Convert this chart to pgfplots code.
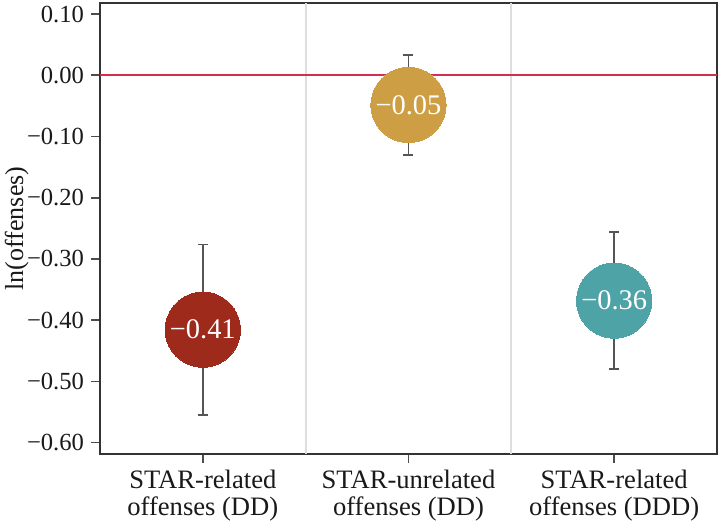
\documentclass[border=0pt]{standalone}
\usepackage{pgfplots}
\pgfplotsset{compat=1.18}
\usepackage{fontspec}
\setmainfont{Liberation Serif}
\definecolor{cred}{HTML}{9E2A1B}
\definecolor{cgold}{HTML}{CD9E44}
\definecolor{cteal}{HTML}{4EA3A6}
\definecolor{cline}{HTML}{D22F4E}
\definecolor{cerr}{HTML}{555555}
\begin{document}
\begin{tikzpicture}[font=\rmfamily]
\begin{axis}[
  at={(0,0)}, anchor=south west, scale only axis,
  width=308.5pt, height=225.5pt,
  xmin=-0.5, xmax=2.5, ymin=-0.6185, ymax=0.118,
  xtick={0,1,2},
  xticklabels={{STAR-related\\offenses (DD)},{STAR-unrelated\\offenses (DD)},{STAR-related\\offenses (DDD)}},
  ytick={0.1,0,-0.1,-0.2,-0.3,-0.4,-0.5,-0.6},
  yticklabels={0.10,0.00,−0.10,−0.20,−0.30,−0.40,−0.50,−0.60},
  tick align=outside, xtick pos=bottom, ytick pos=left,
  major tick length=4.5pt,
  tick style={draw=black!70, line width=0.8pt},
  axis line style={draw=black!80, line width=0.9pt},
  yticklabel style={font=\rmfamily\fontsize{12.3}{12.3}\selectfont, text=black!90},
  xticklabel style={align=center, font=\rmfamily\fontsize{13.3}{13.3}\selectfont, text=black!90},
  extra x ticks={0.5,1.5}, extra x tick labels={},
  extra x tick style={grid=major, major tick length=0pt, major grid style={draw=black!13, line width=0.9pt}},
  ylabel={ln(offenses)},
  ylabel style={at={(axis description cs:-0.135,0.5)}, anchor=center, font=\rmfamily\fontsize{13}{13}\selectfont, text=black!90},
]
\addplot[color=cline, line width=1pt, forget plot] coordinates {(-0.5,0) (2.5,0)};
\addplot[color=cerr, only marks, mark=none, forget plot,
  error bars/.cd, y dir=both, y explicit, error mark=-,
  error bar style={draw=cerr, line width=0.8pt},
  error mark options={draw=cerr, line width=0.8pt, mark size=2.5pt, rotate=90}]
  coordinates {(0,-0.4155) +- (0,0.139) (1,-0.0485) +- (0,0.0815) (2,-0.368) +- (0,0.112)};
\addplot[color=cred, only marks, mark=*, mark size=18.8pt, mark options={draw=cred, fill=cred, line width=0pt},
  nodes near coords={−0.41},
  every node near coord/.style={anchor=center, text=white, font=\rmfamily\fontsize{14.2}{14.2}\selectfont}]
  coordinates {(0,-0.4155)};
\addplot[color=cgold, only marks, mark=*, mark size=18.8pt, mark options={draw=cgold, fill=cgold, line width=0pt},
  nodes near coords={−0.05},
  every node near coord/.style={anchor=center, text=white, font=\rmfamily\fontsize{14.2}{14.2}\selectfont}]
  coordinates {(1,-0.0485)};
\addplot[color=cteal, only marks, mark=*, mark size=18.8pt, mark options={draw=cteal, fill=cteal, line width=0pt},
  nodes near coords={−0.36},
  every node near coord/.style={anchor=center, text=white, font=\rmfamily\fontsize{14.2}{14.2}\selectfont}]
  coordinates {(2,-0.368)};
\end{axis}
\pgfresetboundingbox
\path[use as bounding box] (-50pt,-35.5pt) rectangle (310pt,227pt);
\end{tikzpicture}
\end{document}
